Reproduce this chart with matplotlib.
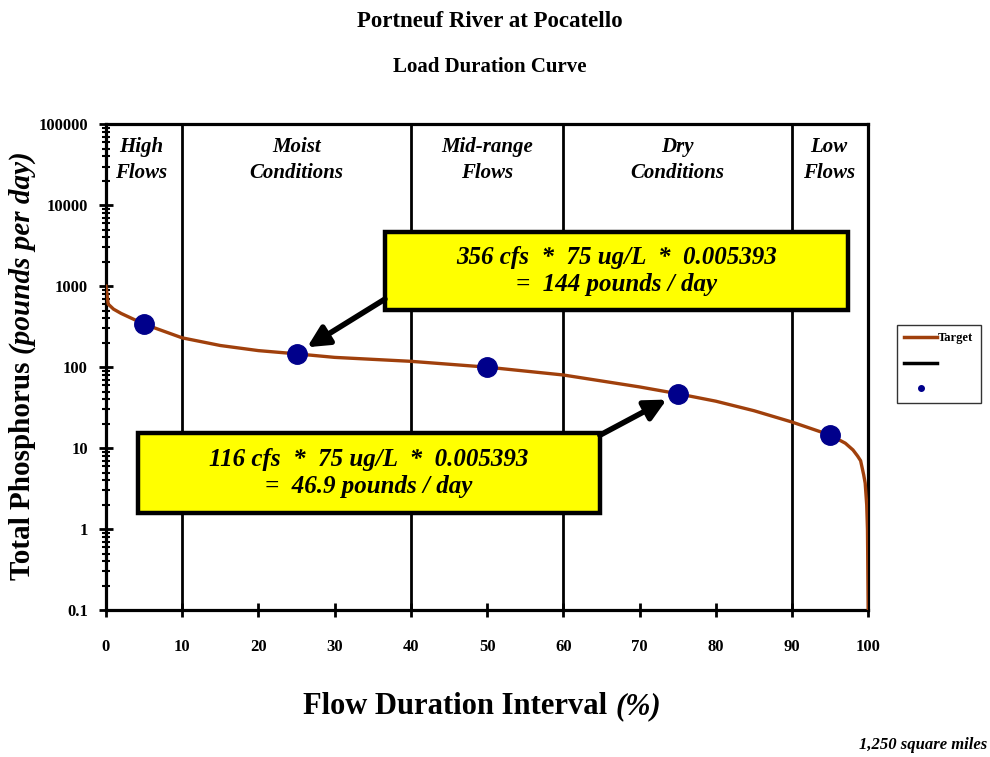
import numpy as np
import matplotlib.pyplot as plt
from matplotlib.lines import Line2D
from matplotlib.patches import Rectangle

plt.rcParams['font.family'] = ['Liberation Serif', 'DejaVu Serif']
plt.rcParams['font.weight'] = 'bold'

# Target load duration curve (pounds/day vs flow duration %)
duration = [0, 0.3, 1, 2, 5, 10, 15, 20, 25, 30, 40, 50, 60, 70, 75, 80, 85,
            90, 95, 97, 98, 98.6, 99, 99.4, 99.6, 99.8, 99.9, 100]
target = [1000, 600, 520, 460, 340, 230, 185, 160, 146, 132, 118, 100, 80, 57,
          47, 38, 29, 21, 14.5, 11.5, 9.5, 8, 7, 4.7, 3.7, 2.0, 1.0, 0.1]

# Loads at the middle of each flow zone
point_x = [5, 25, 50, 75, 95]
point_y = [340, 146, 100, 47, 14.5]

zone_edges = [10, 40, 60, 90]
zone_centers = [4.6, 25, 50, 75, 94.8]
zone_labels = ['High\nFlows', 'Moist\nConditions', 'Mid-range\nFlows',
               'Dry\nConditions', 'Low\nFlows']

x_ticks = list(range(0, 101, 10))
y_ticks = [0.1, 1, 10, 100, 1000, 10000, 100000]
y_tick_labels = ['0.1', '1', '10', '100', '1000', '10000', '100000']

brown = '#A0400C'
navy = '#00008B'

W, H = 990, 757
fig = plt.figure(figsize=(W / 100, H / 100), dpi=100)
ax = fig.add_axes([0.107, 0.194, 0.770, 0.642])

ax.plot(duration, target, color=brown, lw=2.4, zorder=3)
ax.plot(point_x, point_y, 'o', color=navy, markersize=14, zorder=4)

for xe in zone_edges:
    ax.axvline(xe, color='black', lw=2.0, zorder=2)

ax.set_yscale('log')
ax.set_xlim(0, 100)
ax.set_ylim(0.1, 100000)
ax.set_xticks(x_ticks)
ax.set_xticklabels([str(t) for t in x_ticks])
ax.set_yticks(y_ticks)
ax.set_yticklabels(y_tick_labels)
ax.tick_params(axis='both', which='major', direction='inout', length=10,
               width=2, labelsize=12, pad=8)
ax.tick_params(axis='y', which='minor', direction='inout', length=6, width=1.5)
ax.tick_params(axis='x', pad=16)
for s in ax.spines.values():
    s.set_linewidth(2.3)

for xc, lab in zip(zone_centers, zone_labels):
    ax.text(xc, 0.926, lab, transform=ax.get_xaxis_transform(), ha='center',
            va='center', fontsize=15, style='italic', fontweight='bold',
            linespacing=1.35)

# Annotation boxes
box1 = Rectangle((0.366, 0.617), 0.608, 0.161, transform=ax.transAxes,
                 facecolor='#FFFF00', edgecolor='black', lw=3.2, zorder=5)
box2 = Rectangle((0.042, 0.200), 0.606, 0.164, transform=ax.transAxes,
                 facecolor='#FFFF00', edgecolor='black', lw=3.2, zorder=5)
ax.add_patch(box1)
ax.add_patch(box2)
ax.text(0.67, 0.698, '356 cfs  *  75 ug/L  *  0.005393\n=  144 pounds / day',
        transform=ax.transAxes, ha='center', va='center', fontsize=18,
        style='italic', fontweight='bold', linespacing=1.25, zorder=6)
ax.text(0.345, 0.282, '116 cfs  *  75 ug/L  *  0.005393\n=  46.9 pounds / day',
        transform=ax.transAxes, ha='center', va='center', fontsize=18,
        style='italic', fontweight='bold', linespacing=1.25, zorder=6)

arrow = dict(arrowstyle='-|>', color='black', lw=4, mutation_scale=32,
             shrinkA=0, shrinkB=9)
ax.annotate('', xy=(point_x[1], point_y[1]), xytext=(0.366, 0.640),
            xycoords='data', textcoords='axes fraction', arrowprops=arrow,
            zorder=7)
ax.annotate('', xy=(point_x[3], point_y[3]), xytext=(0.648, 0.360),
            xycoords='data', textcoords='axes fraction', arrowprops=arrow,
            zorder=7)

# Titles
fig.text(0.495, 0.972, 'Portneuf River at Pocatello', ha='center', va='center',
         fontsize=16.5, fontweight='bold')
fig.text(0.495, 0.912, 'Load Duration Curve', ha='center', va='center',
         fontsize=15, fontweight='bold')
fig.text(0.997, 0.016, '1,250 square miles', ha='right', va='center',
         fontsize=12, style='italic', fontweight='bold')


def two_part_label(cx, cy, plain, slanted, size, vertical=False):
    # plain bold part followed by a bold italic part, centred on (cx, cy) px
    kw = dict(fontsize=size, fontweight='bold', transform=None,
              rotation_mode='anchor', ha='left', va='baseline')
    t1 = fig.text(0, 0, plain, **kw)
    t2 = fig.text(0, 0, slanted, style='italic', **kw)
    r = fig.canvas.get_renderer()
    w1 = t1.get_window_extent(r).width
    w2 = t2.get_window_extent(r).width
    gap = size * 0.35
    start = -(w1 + gap + w2) / 2
    if vertical:
        t1.set_rotation(90)
        t2.set_rotation(90)
        t1.set_position((cx, cy + start))
        t2.set_position((cx, cy + start + w1 + gap))
    else:
        t1.set_position((cx + start, cy))
        t2.set_position((cx + start + w1 + gap, cy))


two_part_label(482, H - 714, 'Flow Duration Interval', '(%)', 22)
two_part_label(30, H - 366, 'Total Phosphorus', '(pounds per day)', 21,
               vertical=True)

handles = [Line2D([], [], color=brown, lw=2.5),
           Line2D([], [], color='black', lw=2.5),
           Line2D([], [], color=navy, marker='o', ls='none', markersize=4)]
leg = fig.legend(handles, ['Target', ' ', ' '], loc='upper left',
                 bbox_to_anchor=(0.906, 0.571), frameon=True,
                 fancybox=False, edgecolor='black', handlelength=2.6,
                 labelspacing=1.1, borderpad=0.6, handletextpad=0.1,
                 borderaxespad=0.0,
                 prop={'family': 'Liberation Serif', 'weight': 'bold', 'size': 9})
leg.get_frame().set_linewidth(1.0)

fig.savefig('out.png', dpi=100)
